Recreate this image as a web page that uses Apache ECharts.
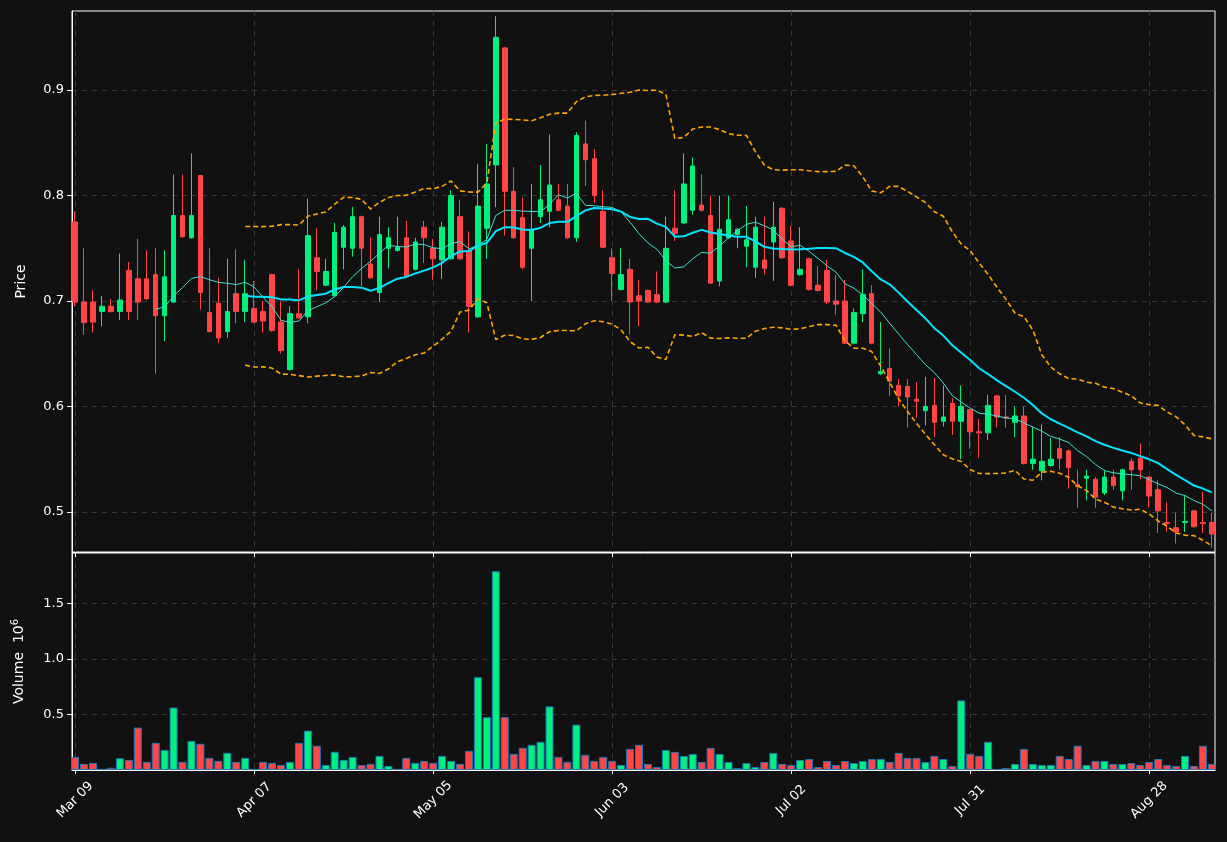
<!DOCTYPE html>
<html><head><meta charset="utf-8">
<script src="https://cdn.jsdelivr.net/npm/echarts@6/dist/echarts.min.js"></script>
<style>html,body{margin:0;background:#111;}#c{width:1227px;height:842px;}</style>
</head><body><div id="c"></div>
<script>
const tickIdx = [0,20,40,60,80,100,120];
const tickLabels = ['Mar 09','Apr 07','May 05','Jun 03','Jul 02','Jul 31','Aug 28'];
const opens = [.775,.699,.699,.690,.695,.690,.729,.721,.721,.725,.686,.699,.781,.760,.819,.689,.698,.671,.707,.690,.693,.690,.725,.680,.635,.688,.685,.741,.715,.705,.751,.750,.780,.735,.708,.750,.748,.760,.730,.770,.750,.739,.740,.780,.748,.685,.769,.829,.940,.804,.779,.750,.780,.785,.796,.790,.760,.849,.835,.785,.741,.711,.730,.705,.710,.706,.699,.769,.774,.786,.791,.781,.719,.760,.763,.752,.732,.739,.756,.788,.757,.725,.740,.715,.729,.700,.700,.660,.688,.707,.631,.636,.620,.619,.607,.596,.601,.586,.603,.586,.597,.576,.575,.610,.590,.585,.591,.546,.539,.544,.560,.558,.526,.532,.531,.518,.533,.520,.548,.551,.533,.521,.490,.485,.490,.501,.490,.490];
const closes = [.699,.6795,.680,.695,.690,.701,.690,.699,.702,.686,.723,.781,.761,.781,.708,.671,.665,.690,.690,.707,.680,.681,.672,.653,.688,.684,.762,.728,.728,.765,.770,.780,.750,.722,.763,.760,.751,.723,.756,.760,.740,.770,.800,.740,.695,.790,.811,.950,.804,.760,.732,.768,.796,.810,.786,.760,.857,.834,.800,.751,.726,.725,.699,.700,.699,.699,.750,.764,.811,.828,.786,.717,.768,.777,.768,.758,.770,.731,.770,.741,.715,.730,.711,.710,.699,.697,.660,.689,.706,.660,.633,.624,.610,.609,.605,.600,.585,.590,.586,.600,.576,.575,.601,.590,.589,.591,.546,.550,.548,.550,.551,.542,.524,.534,.514,.533,.525,.540,.540,.540,.515,.501,.489,.481,.491,.486,.489,.479];
const highs = [.785,.750,.710,.705,.702,.745,.737,.759,.748,.750,.748,.820,.820,.840,.819,.750,.722,.740,.749,.739,.719,.700,.726,.700,.695,.730,.797,.769,.740,.774,.772,.789,.781,.760,.780,.770,.780,.776,.760,.776,.759,.775,.805,.796,.766,.830,.849,.970,.941,.827,.798,.811,.829,.858,.811,.811,.860,.871,.844,.805,.750,.750,.740,.720,.711,.728,.780,.805,.840,.836,.820,.800,.800,.800,.769,.790,.780,.780,.794,.789,.771,.770,.741,.733,.739,.725,.720,.693,.730,.715,.680,.655,.626,.626,.623,.628,.627,.620,.608,.620,.598,.588,.611,.611,.611,.600,.600,.581,.583,.570,.571,.559,.540,.540,.533,.540,.540,.541,.551,.565,.534,.530,.509,.499,.515,.502,.519,.499];
const lows = [.695,.668,.670,.676,.689,.682,.682,.682,.701,.631,.662,.698,.760,.759,.692,.670,.660,.665,.679,.680,.679,.670,.671,.650,.634,.683,.679,.710,.714,.704,.730,.742,.714,.721,.699,.731,.747,.722,.729,.736,.720,.721,.739,.739,.670,.684,.740,.789,.762,.759,.730,.700,.774,.770,.785,.759,.756,.809,.793,.750,.700,.710,.668,.676,.698,.698,.698,.757,.773,.782,.785,.716,.714,.759,.750,.732,.722,.725,.719,.740,.714,.724,.710,.709,.697,.687,.659,.659,.680,.659,.630,.610,.600,.580,.589,.582,.571,.581,.573,.550,.560,.551,.568,.580,.580,.571,.545,.540,.530,.543,.540,.522,.504,.511,.504,.516,.521,.511,.521,.531,.504,.480,.481,.470,.481,.485,.480,.466];
const volumes = [.118,.055,.064,.01,.02,.106,.091,.382,.073,.245,.181,.563,.073,.263,.236,.109,.082,.155,.073,.109,.01,.073,.064,.045,.073,.245,.355,.218,.045,.164,.091,.118,.045,.055,.127,.036,.01,.109,.064,.082,.064,.127,.082,.055,.173,.836,.476,1.791,.476,.145,.200,.227,.254,.573,.118,.073,.409,.136,.082,.118,.082,.045,.191,.227,.054,.027,.18,.163,.127,.145,.072,.199,.145,.072,.018,.063,.027,.072,.154,.054,.045,.09,.099,.027,.081,.045,.081,.063,.081,.099,.099,.072,.154,.109,.109,.072,.127,.099,.036,.627,.145,.127,.254,.009,.018,.054,.19,.054,.045,.045,.127,.099,.218,.045,.081,.081,.054,.054,.063,.045,.072,.099,.045,.036,.127,.036,.218,.054];

const UP = '#00f080', DOWN = '#ff4545';
function ma(p){ return closes.map((_,i)=>{ if(i<p-1) return [i,null]; let s=0; for(let k=i-p+1;k<=i;k++) s+=closes[k]; return [i,s/p]; }); }
function band(sign){ return closes.map((_,i)=>{ if(i<19) return [i,null]; let s=0; for(let k=i-19;k<=i;k++) s+=closes[k]; const m=s/20; let v=0; for(let k=i-19;k<=i;k++) v+=(closes[k]-m)**2; return [i, m+sign*2*Math.sqrt(v/19)]; }); }
const candle = opens.map((o,i)=>[i,o,closes[i],lows[i],highs[i]]);
const vol = volumes.map((v,i)=>({value:[i,v], itemStyle:{color: closes[i]>=opens[i]?UP:DOWN}}));

const txt = '#ffffff';
const grid2 = {show:true, lineStyle:{color:'#3a3a3a', type:[5,5], width:1}};
const xBase = {type:'value', min:-0.35, max:127.35,
  axisLine:{onZero:false, lineStyle:{color:'#fff'}}, splitLine:grid2};
const chart = echarts.init(document.getElementById('c'));
chart.setOption({
  backgroundColor:'#111111', animation:false,
  grid:[{left:72,right:12,top:11,height:541,show:true,borderColor:'#fff',borderWidth:1},
        {left:72,right:12,top:553,bottom:72,show:true,borderColor:'#fff',borderWidth:1}],
  xAxis:[
    Object.assign({}, xBase, {gridIndex:0, axisLabel:{show:false}, axisTick:{show:true, customValues:tickIdx, lineStyle:{color:'#fff'}}}),
    Object.assign({}, xBase, {gridIndex:1,
      axisTick:{show:true, customValues:tickIdx, length:4, lineStyle:{color:'#fff'}},
      axisLabel:{customValues:tickIdx, rotate:45, align:'center', verticalAlign:'middle', color:txt, fontSize:13, fontFamily:'DejaVu Sans', margin:30,
        formatter:v=>tickLabels[tickIdx.indexOf(Math.round(v))]||''}})
  ],
  yAxis:[
    {type:'value', gridIndex:0, min:0.462, max:0.975, name:'Price', nameLocation:'middle', nameGap:44,
     nameTextStyle:{color:txt,fontSize:14,fontFamily:'DejaVu Sans'},
     axisLine:{show:true,onZero:false,lineStyle:{color:'#fff'}}, axisTick:{show:true, customValues:[0.5,0.6,0.7,0.8,0.9], lineStyle:{color:'#fff'}},
     axisLabel:{customValues:[0.5,0.6,0.7,0.8,0.9], color:txt, fontSize:13, fontFamily:'DejaVu Sans', formatter:v=>v.toFixed(1)},
     splitLine:grid2},
    {type:'value', gridIndex:1, min:0, max:1.955, name:'{a|Volume  10}{s|6}', nameLocation:'middle', nameGap:44,
     nameTextStyle:{color:txt, rich:{a:{color:txt,fontSize:14,fontFamily:'DejaVu Sans'}, s:{color:txt,fontSize:10,fontFamily:'DejaVu Sans',verticalAlign:'top',padding:[0,0,8,0]}}},
     axisLine:{show:true,onZero:false,lineStyle:{color:'#fff'}}, axisTick:{show:true, customValues:[0.5,1.0,1.5], lineStyle:{color:'#fff'}},
     axisLabel:{customValues:[0.5,1.0,1.5], color:txt, fontSize:13, fontFamily:'DejaVu Sans', formatter:v=>v.toFixed(1)},
     splitLine:grid2}
  ],
  series:[
    {type:'candlestick', xAxisIndex:0, yAxisIndex:0, barWidth:5, data:candle,
     dimensions:['i','open','close','lowest','highest'], encode:{x:'i', y:['open','close','lowest','highest']},
     itemStyle:{color:UP,color0:DOWN,borderColor:UP,borderColor0:DOWN,borderWidth:1}},
    {type:'line', data:ma(10), showSymbol:false, lineStyle:{color:'#40e0d0',width:1}, z:5},
    {type:'line', data:ma(20), showSymbol:false, lineStyle:{color:'#00e5ff',width:2}, z:5},
    {type:'line', data:band(1), showSymbol:false, lineStyle:{color:'#ffa500',width:1.6,type:[5,3]}, z:5},
    {type:'line', data:band(-1), showSymbol:false, lineStyle:{color:'#ffa500',width:1.6,type:[5,3]}, z:5},
    {type:'bar', xAxisIndex:1, yAxisIndex:1, barWidth:8, data:vol, itemStyle:{borderColor:'#1f77b4',borderWidth:1}}
  ]
});
</script></body></html>
